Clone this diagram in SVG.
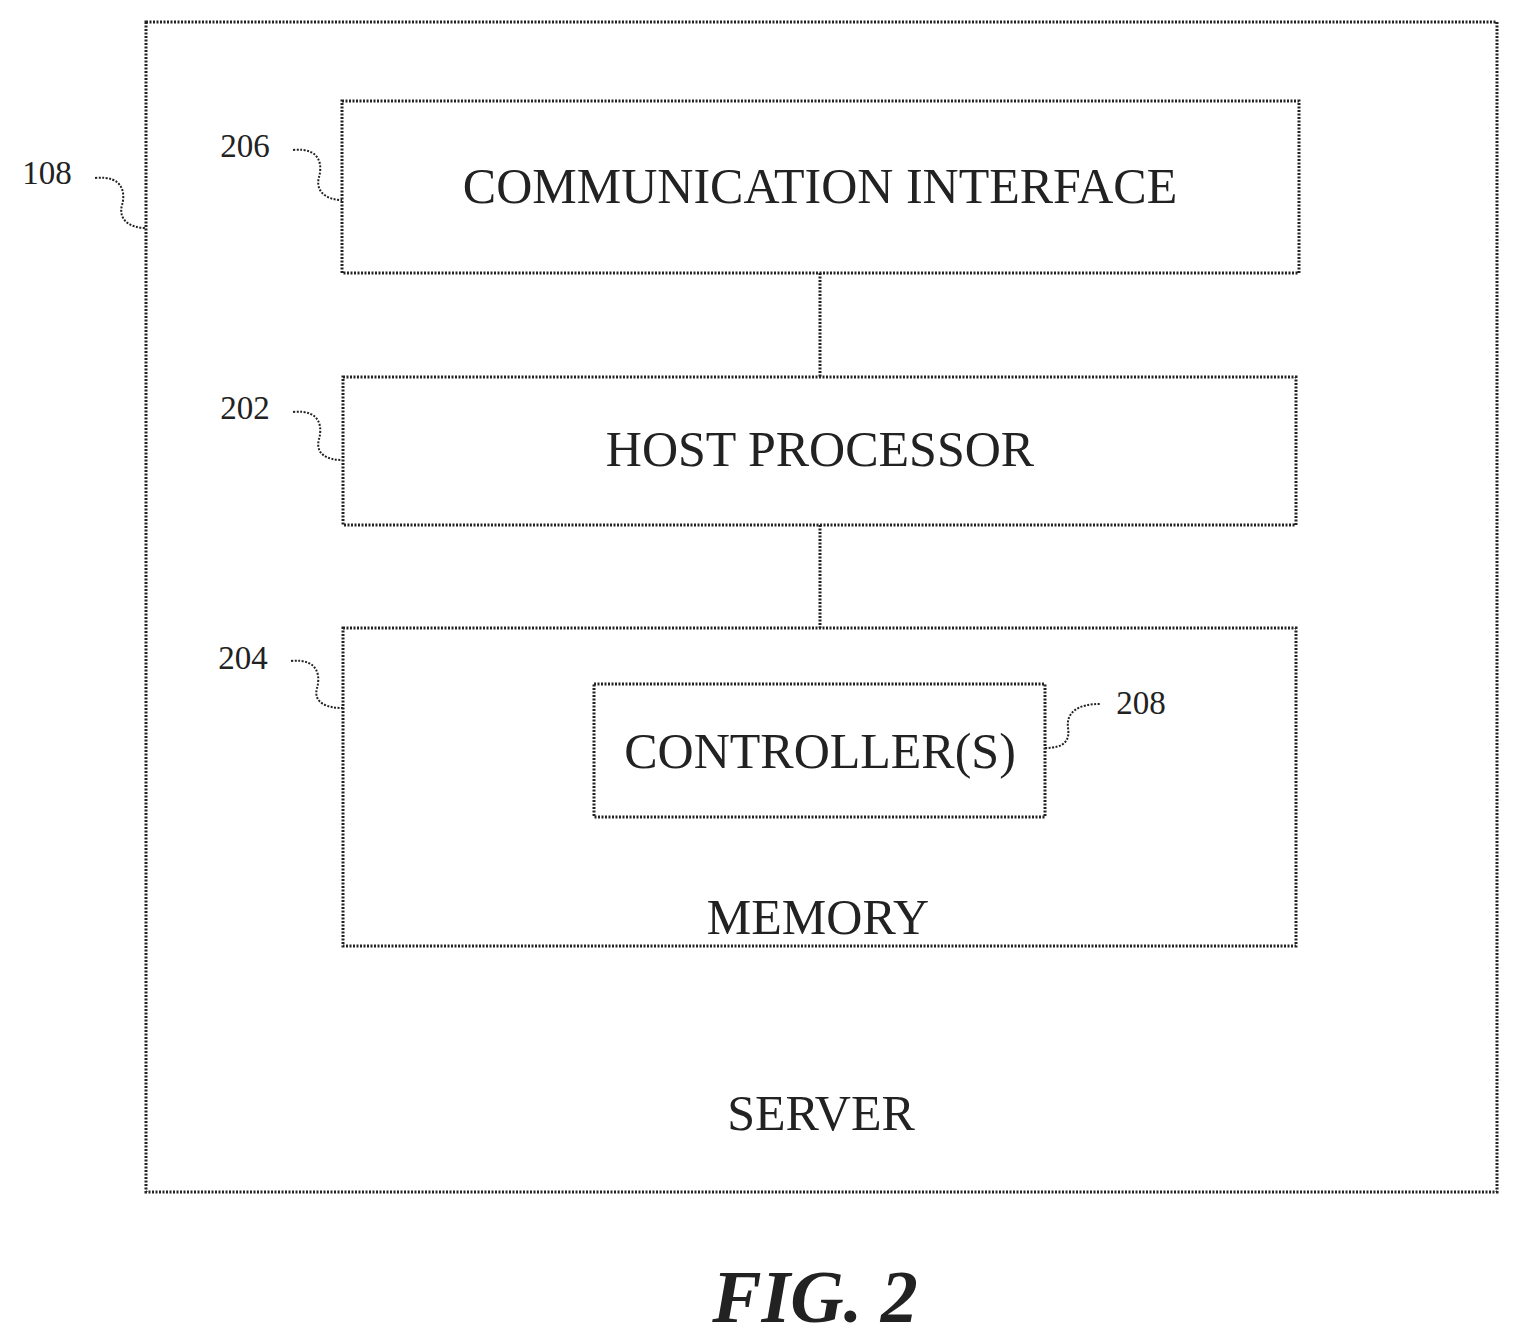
<svg xmlns="http://www.w3.org/2000/svg" width="1519" height="1343" viewBox="0 0 1519 1343">
<style>
.box{fill:none;stroke:#222;stroke-width:3;stroke-dasharray:2 1.5}
.t{font-family:"Liberation Serif",serif;font-size:50px;text-anchor:middle;fill:#222}
.l{font-family:"Liberation Serif",serif;font-size:33px;text-anchor:middle;fill:#222}
.ld{fill:none;stroke:#222;stroke-width:2;stroke-dasharray:2 1.5}
</style>
<rect width="1519" height="1343" fill="#fff"/>
<g id="server"><rect class="box" x="146" y="22" width="1351" height="1170"/><text class="t" x="821" y="1130">SERVER</text></g>
<g id="comm"><rect class="box" x="342" y="101" width="957" height="172"/><text class="t" x="820" y="203">COMMUNICATION INTERFACE</text></g>
<g id="host"><rect class="box" x="343" y="377" width="953" height="148"/><text class="t" x="820" y="466">HOST PROCESSOR</text></g>
<g id="memory"><rect class="box" x="343" y="628" width="953" height="318"/><text class="t" x="818" y="934">MEMORY</text></g>
<g id="controller"><rect class="box" x="594" y="684" width="451" height="133"/><text class="t" x="820" y="768">CONTROLLER(S)</text></g>
<g id="connectors">
<line class="box" x1="820" y1="273" x2="820" y2="377"/>
<line class="box" x1="820" y1="525" x2="820" y2="628"/>
</g>
<g id="labels">
<text class="l" x="47" y="184">108</text>
<path class="ld" d="M95,178 C125,175 125,195 122,205 C118,220 130,228 146,228"/>
<text class="l" x="245" y="157">206</text>
<path class="ld" d="M293,150 C322,147 322,167 319,177 C315,192 327,200 342,200"/>
<text class="l" x="245" y="419">202</text>
<path class="ld" d="M293,412 C322,409 322,429 319,439 C315,454 327,460 342,460"/>
<text class="l" x="243" y="669">204</text>
<path class="ld" d="M291,661 C320,658 320,678 317,688 C313,703 327,708 343,708"/>
<text class="l" x="1141" y="714">208</text>
<path class="ld" d="M1045,748 C1065,748 1070,740 1068,728 C1066,712 1078,704 1100,704"/>
<text x="815" y="1322" font-family="Liberation Serif,serif" font-size="74" font-style="italic" font-weight="bold" text-anchor="middle" fill="#222">FIG. 2</text>
</g>
</svg>
